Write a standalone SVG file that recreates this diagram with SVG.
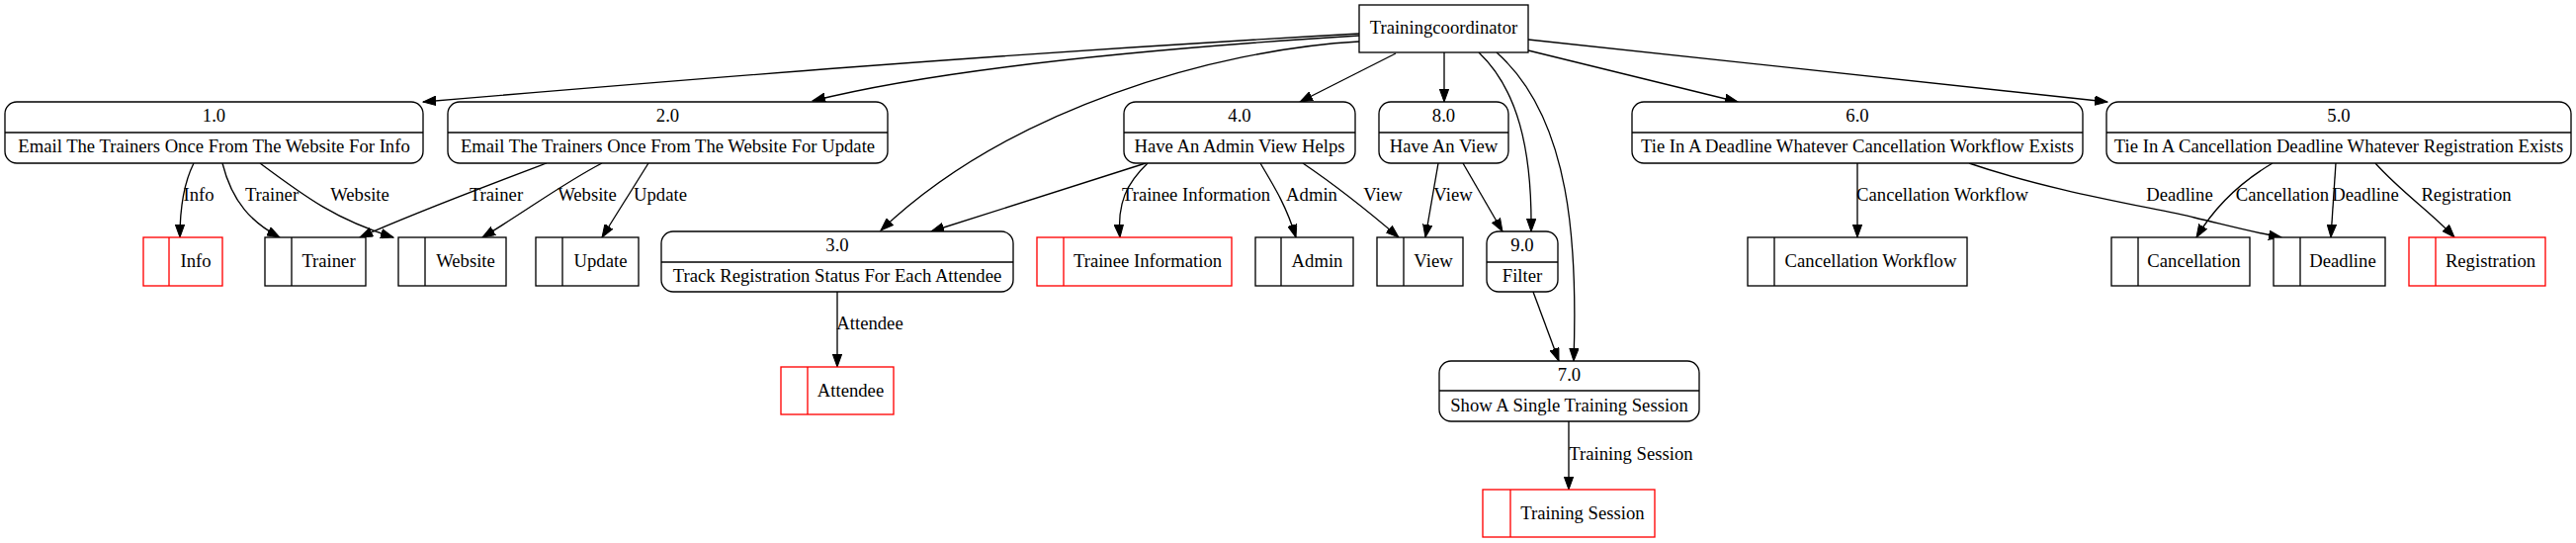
<svg xmlns="http://www.w3.org/2000/svg" width="2606" height="549" viewBox="0 0 2606 549" font-family="'Liberation Serif', 'Times New Roman', serif">
<style>
text{font-family:'Liberation Serif','Times New Roman',serif;font-size:18.67px;fill:#000}
.c{text-anchor:middle}
.p{fill:#fff;stroke:#000;stroke-width:1.33}
.s{fill:#fff;stroke:#000;stroke-width:1.33}
.r{fill:#fff;stroke:#ff0000;stroke-width:1.33}
.e path{fill:none;stroke:#000;stroke-width:1.33;marker-end:url(#ah)}
</style>
<defs>
<marker id="ah" markerWidth="14" markerHeight="10" refX="13" refY="5" orient="auto" markerUnits="userSpaceOnUse">
<path d="M0,0.3 L13,5 L0,9.7 z" fill="#000" stroke="#000" stroke-width="1"/>
</marker>
</defs>
<rect width="2606" height="549" fill="#fff"/>

<g id="edges" class="e">
<path d="M1375,34 C1000,55 700,80 428,103"/>
<path d="M1375,36 C1150,50 950,70 822,102"/>
<path d="M1375,42 C1230,50 1020,110 891,233"/>
<path d="M1412,54 L1315,103"/>
<path d="M1461,53 L1461,103"/>
<path d="M1496,53 C1535,90 1550,150 1549,234"/>
<path d="M1514,53 C1590,120 1596,250 1592,365"/>
<path d="M1546,51 L1758,103"/>
<path d="M1546,40 L2132,103"/>
<path d="M196,165 C186,185 182,210 182,240"/>
<path d="M225,165 C235,205 255,225 283,240"/>
<path d="M263,165 C310,200 340,222 398,240"/>
<path d="M553,165 C500,185 420,215 364,240"/>
<path d="M609,165 C570,185 530,215 488,240"/>
<path d="M656,165 L609,240"/>
<path d="M1159,165 L942,234"/>
<path d="M1161,165 C1140,185 1130,205 1133,240"/>
<path d="M1275,165 C1290,190 1302,210 1311,240"/>
<path d="M1318,165 C1355,190 1380,210 1415,240"/>
<path d="M1455,165 L1442,240"/>
<path d="M1480,165 L1520,234"/>
<path d="M847,295 L847,371"/>
<path d="M1551,295 L1577,365"/>
<path d="M1587,426 L1587,495"/>
<path d="M1879,165 L1879,240"/>
<path d="M1992,165 C2080,195 2180,210 2220,220 C2250,227 2280,235 2308,240"/>
<path d="M2299,165 C2265,185 2240,210 2222,240"/>
<path d="M2363,165 L2358,240"/>
<path d="M2403,165 C2430,195 2460,215 2483,240"/>
</g>

<g id="edge-labels">
<text class="c" x="201" y="203">Info</text>
<text class="c" x="275" y="203">Trainer</text>
<text class="c" x="364" y="203">Website</text>
<text class="c" x="502" y="203">Trainer</text>
<text class="c" x="594" y="203">Website</text>
<text class="c" x="668" y="203">Update</text>
<text class="c" x="1210" y="203">Trainee Information</text>
<text class="c" x="1327" y="203">Admin</text>
<text class="c" x="1399" y="203">View</text>
<text class="c" x="1470" y="203">View</text>
<text class="c" x="1965" y="203">Cancellation Workflow</text>
<text class="c" x="2205" y="203">Deadline</text>
<text class="c" x="2309" y="203">Cancellation</text>
<text class="c" x="2393" y="203">Deadline</text>
<text class="c" x="2495" y="203">Registration</text>
<text class="c" x="880" y="333">Attendee</text>
<text class="c" x="1650" y="465">Training Session</text>
</g>

<g id="trainingcoordinator">
<rect class="s" x="1375" y="5" width="171" height="48"/>
<text class="c" x="1460.5" y="34">Trainingcoordinator</text>
</g>

<g id="p1">
<rect class="p" x="5" y="103" width="423" height="62" rx="12"/>
<line x1="5" y1="134" x2="428" y2="134" stroke="#000" stroke-width="1.33"/>
<text class="c" x="216.5" y="123">1.0</text>
<text class="c" x="216.5" y="154">Email The Trainers Once From The Website For Info</text>
</g>
<g id="p2">
<rect class="p" x="453" y="103" width="445" height="62" rx="12"/>
<line x1="453" y1="134" x2="898" y2="134" stroke="#000" stroke-width="1.33"/>
<text class="c" x="675.5" y="123">2.0</text>
<text class="c" x="675.5" y="154">Email The Trainers Once From The Website For Update</text>
</g>
<g id="p4">
<rect class="p" x="1137" y="103" width="234" height="62" rx="12"/>
<line x1="1137" y1="134" x2="1371" y2="134" stroke="#000" stroke-width="1.33"/>
<text class="c" x="1254" y="123">4.0</text>
<text class="c" x="1254" y="154">Have An Admin View Helps</text>
</g>
<g id="p8">
<rect class="p" x="1395" y="103" width="131" height="62" rx="12"/>
<line x1="1395" y1="134" x2="1526" y2="134" stroke="#000" stroke-width="1.33"/>
<text class="c" x="1460.5" y="123">8.0</text>
<text class="c" x="1460.5" y="154">Have An View</text>
</g>
<g id="p6">
<rect class="p" x="1651" y="103" width="456" height="62" rx="12"/>
<line x1="1651" y1="134" x2="2107" y2="134" stroke="#000" stroke-width="1.33"/>
<text class="c" x="1879" y="123">6.0</text>
<text class="c" x="1879" y="154">Tie In A Deadline Whatever Cancellation Workflow Exists</text>
</g>
<g id="p5">
<rect class="p" x="2131" y="103" width="470" height="62" rx="12"/>
<line x1="2131" y1="134" x2="2601" y2="134" stroke="#000" stroke-width="1.33"/>
<text class="c" x="2366" y="123">5.0</text>
<text class="c" x="2366" y="154">Tie In A Cancellation Deadline Whatever Registration Exists</text>
</g>
<g id="p3">
<rect class="p" x="669" y="234" width="356" height="61" rx="12"/>
<line x1="669" y1="265" x2="1025" y2="265" stroke="#000" stroke-width="1.33"/>
<text class="c" x="847" y="254">3.0</text>
<text class="c" x="847" y="285">Track Registration Status For Each Attendee</text>
</g>
<g id="p9">
<rect class="p" x="1504" y="234" width="72" height="61" rx="12"/>
<line x1="1504" y1="265" x2="1576" y2="265" stroke="#000" stroke-width="1.33"/>
<text class="c" x="1540" y="254">9.0</text>
<text class="c" x="1540" y="285">Filter</text>
</g>
<g id="p7">
<rect class="p" x="1456" y="365" width="263" height="61" rx="12"/>
<line x1="1456" y1="395" x2="1719" y2="395" stroke="#000" stroke-width="1.33"/>
<text class="c" x="1587.5" y="385">7.0</text>
<text class="c" x="1587.5" y="416">Show A Single Training Session</text>
</g>

<g id="ds-info">
<rect class="r" x="145" y="240" width="80" height="49"/>
<line x1="171" y1="240" x2="171" y2="289" stroke="#ff0000" stroke-width="1.33"/>
<text class="c" x="198" y="270">Info</text>
</g>
<g id="ds-trainer">
<rect class="s" x="268" y="240" width="102" height="49"/>
<line x1="295" y1="240" x2="295" y2="289" stroke="#000" stroke-width="1.33"/>
<text class="c" x="332.5" y="270">Trainer</text>
</g>
<g id="ds-website">
<rect class="s" x="403" y="240" width="109" height="49"/>
<line x1="430" y1="240" x2="430" y2="289" stroke="#000" stroke-width="1.33"/>
<text class="c" x="471" y="270">Website</text>
</g>
<g id="ds-update">
<rect class="s" x="542" y="240" width="104" height="49"/>
<line x1="569" y1="240" x2="569" y2="289" stroke="#000" stroke-width="1.33"/>
<text class="c" x="607.5" y="270">Update</text>
</g>
<g id="ds-trainee-information">
<rect class="r" x="1049" y="240" width="197" height="49"/>
<line x1="1076" y1="240" x2="1076" y2="289" stroke="#ff0000" stroke-width="1.33"/>
<text class="c" x="1161" y="270">Trainee Information</text>
</g>
<g id="ds-admin">
<rect class="s" x="1270" y="240" width="99" height="49"/>
<line x1="1296" y1="240" x2="1296" y2="289" stroke="#000" stroke-width="1.33"/>
<text class="c" x="1332.5" y="270">Admin</text>
</g>
<g id="ds-view">
<rect class="s" x="1393" y="240" width="87" height="49"/>
<line x1="1420" y1="240" x2="1420" y2="289" stroke="#000" stroke-width="1.33"/>
<text class="c" x="1450" y="270">View</text>
</g>
<g id="ds-cancellation-workflow">
<rect class="s" x="1768" y="240" width="222" height="49"/>
<line x1="1795" y1="240" x2="1795" y2="289" stroke="#000" stroke-width="1.33"/>
<text class="c" x="1892.5" y="270">Cancellation Workflow</text>
</g>
<g id="ds-cancellation">
<rect class="s" x="2136" y="240" width="140" height="49"/>
<line x1="2163" y1="240" x2="2163" y2="289" stroke="#000" stroke-width="1.33"/>
<text class="c" x="2219.5" y="270">Cancellation</text>
</g>
<g id="ds-deadline">
<rect class="s" x="2300" y="240" width="113" height="49"/>
<line x1="2327" y1="240" x2="2327" y2="289" stroke="#000" stroke-width="1.33"/>
<text class="c" x="2370" y="270">Deadline</text>
</g>
<g id="ds-registration">
<rect class="r" x="2437" y="240" width="138" height="49"/>
<line x1="2464" y1="240" x2="2464" y2="289" stroke="#ff0000" stroke-width="1.33"/>
<text class="c" x="2519.5" y="270">Registration</text>
</g>
<g id="ds-attendee">
<rect class="r" x="790" y="371" width="114" height="48"/>
<line x1="817" y1="371" x2="817" y2="419" stroke="#ff0000" stroke-width="1.33"/>
<text class="c" x="860.5" y="401">Attendee</text>
</g>
<g id="ds-training-session">
<rect class="r" x="1500" y="495" width="174" height="48"/>
<line x1="1528" y1="495" x2="1528" y2="543" stroke="#ff0000" stroke-width="1.33"/>
<text class="c" x="1601" y="525">Training Session</text>
</g>
</svg>
